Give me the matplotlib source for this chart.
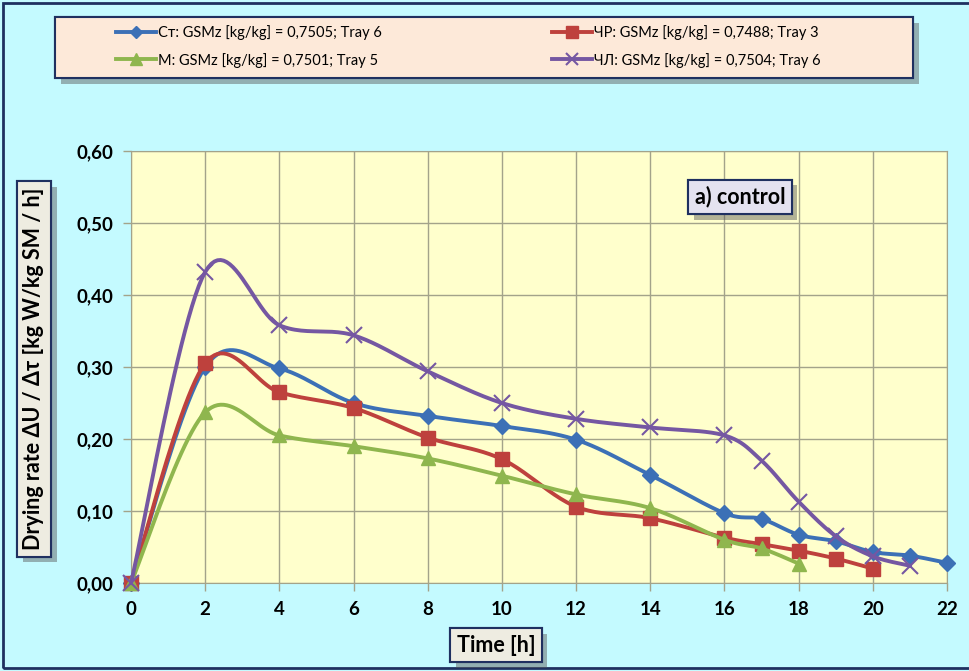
import numpy as np
import matplotlib.pyplot as plt
import matplotlib.patheffects as pe
from matplotlib.patches import Rectangle

# drying rate curves, control sample
time_st = [0, 2, 4, 6, 8, 10, 12, 14, 16, 17, 18, 19, 20, 21, 22]
rate_st = [0, 0.300, 0.298, 0.250, 0.232, 0.218, 0.199, 0.150, 0.097, 0.089, 0.067, 0.058, 0.043, 0.038, 0.028]
time_chr = [0, 2, 4, 6, 8, 10, 12, 14, 16, 17, 18, 19, 20]
rate_chr = [0, 0.305, 0.265, 0.243, 0.202, 0.172, 0.106, 0.090, 0.063, 0.054, 0.045, 0.034, 0.020]
time_m = [0, 2, 4, 6, 8, 10, 12, 14, 16, 17, 18]
rate_m = [0, 0.237, 0.205, 0.190, 0.173, 0.149, 0.123, 0.104, 0.060, 0.048, 0.027]
time_chl = [0, 2, 4, 6, 8, 10, 12, 14, 16, 17, 18, 19, 20, 21]
rate_chl = [0, 0.432, 0.358, 0.344, 0.294, 0.250, 0.228, 0.216, 0.205, 0.170, 0.113, 0.065, 0.037, 0.024]

labels = ['Ст: GSMz [kg/kg] = 0,7505; Tray 6',
          'ЧР: GSMz [kg/kg] = 0,7488; Tray 3',
          'М: GSMz [kg/kg] = 0,7501; Tray 5',
          'ЧЛ: GSMz [kg/kg] = 0,7504; Tray 6']
xticks = list(range(0, 23, 2))
yticks = [0.0, 0.1, 0.2, 0.3, 0.4, 0.5, 0.6]


def smooth(xs, ys, n=24):
    # excel-like smoothed line (catmull-rom as bezier), returns curve + indices of the data points
    x = np.asarray(xs, float)
    y = np.asarray(ys, float)
    px = np.concatenate([[x[0]], x, [x[-1]]])
    py = np.concatenate([[y[0]], y, [y[-1]]])
    cx, cy, idx = [x[0]], [y[0]], [0]
    t = np.linspace(0, 1, n + 1)[1:]
    for i in range(len(x) - 1):
        p0 = np.array([px[i], py[i]])
        p1 = np.array([px[i + 1], py[i + 1]])
        p2 = np.array([px[i + 2], py[i + 2]])
        p3 = np.array([px[i + 3], py[i + 3]])
        c1 = p1 + (p2 - p0) / 6
        c2 = p2 - (p3 - p1) / 6
        bx = (1 - t) ** 3 * p1[0] + 3 * (1 - t) ** 2 * t * c1[0] + 3 * (1 - t) * t ** 2 * c2[0] + t ** 3 * p2[0]
        by = (1 - t) ** 3 * p1[1] + 3 * (1 - t) ** 2 * t * c1[1] + 3 * (1 - t) * t ** 2 * c2[1] + t ** 3 * p2[1]
        cx.extend(bx)
        cy.extend(by)
        idx.append(len(cx) - 1)
    return np.array(cx), np.array(cy), idx


W, H = 969, 671
bg = '#c4faff'
navy = '#1f3060'
grid_c = '#a3a38a'

plt.rcParams['font.family'] = ['Lato', 'DejaVu Sans']
fig = plt.figure(figsize=(W / 100, H / 100), dpi=100, facecolor=bg)
ax = fig.add_axes([131 / W, 1 - 583 / H, (947 - 131) / W, (583 - 151) / H])
ax.set_facecolor('#ffffcc')

fig.patches.append(Rectangle((3 / W, 3 / H), 2, 1 - 6 / H, transform=fig.transFigure,
                             facecolor='none', edgecolor=navy, linewidth=2, zorder=0))

series = [(time_st, rate_st, '#3c70b6', 'D', 8, 0),
          (time_chr, rate_chr, '#be413d', 's', 10, 0),
          (time_m, rate_m, '#8fb64e', '^', 10, 0),
          (time_chl, rate_chl, '#7557a2', 'x', 11, 1.5)]
handles = []
for (tx, ry, col, mk, ms, mew), lab in zip(series, labels):
    sx, sy, idx = smooth(tx, ry)
    kw = dict(markeredgewidth=mew) if mew else dict(markeredgecolor=col)
    h, = ax.plot(sx, sy, color=col, linewidth=2.8, marker=mk, markersize=ms, markevery=idx,
                 markerfacecolor=col, label=lab, clip_on=False, zorder=3, **kw)
    handles.append(h)

ax.set_xlim(0, 22)
ax.set_ylim(0, 0.6)
ax.set_xticks(xticks)
ax.set_yticks(yticks)
ax.set_yticklabels(['{:.2f}'.format(v).replace('.', ',') for v in yticks])
ax.grid(True, color=grid_c, linewidth=1)
ax.set_axisbelow(True)
for s in ax.spines.values():
    s.set_color(grid_c)
ax.tick_params(length=6, color=grid_c, width=1, labelsize=13.5, pad=7)
for lbl in ax.get_xticklabels() + ax.get_yticklabels():
    lbl.set_fontweight('bold')

shadow = [pe.withSimplePatchShadow(offset=(4, -4), shadow_rgbFace='#555555', alpha=0.45), pe.Normal()]

# legend box
box = Rectangle((55 / W, 1 - 78 / H), (913 - 55) / W, 61 / H, transform=fig.transFigure,
                facecolor='#fde9d9', edgecolor=navy, linewidth=1.5, zorder=1)
box.set_path_effects(shadow)
fig.patches.append(box)
leg = fig.legend(handles=[handles[0], handles[2], handles[1], handles[3]],
                 labels=[labels[0], labels[2], labels[1], labels[3]],
                 ncol=2, loc='upper left', bbox_to_anchor=(109 / W, 1 - 18 / H), frameon=False,
                 fontsize=10.5, handlelength=2.7, handletextpad=0.15, columnspacing=11.7,
                 labelspacing=0.85, borderpad=0, markerscale=0.8, numpoints=1)
leg.set_zorder(2)

t = fig.text(34 / W, 1 - 369 / H, 'Drying rate ΔU / Δτ [kg W/kg SM / h]', rotation=90,
             ha='center', va='center', fontsize=15.5, fontweight='bold',
             bbox=dict(boxstyle='square,pad=0.3', facecolor='#eeece1', edgecolor=navy, linewidth=1.5))
t.get_bbox_patch().set_path_effects(shadow)
t = fig.text(496 / W, 1 - 645 / H, 'Time [h]', ha='center', va='center', fontsize=15.5,
             fontweight='bold',
             bbox=dict(boxstyle='square,pad=0.3', facecolor='#eeece1', edgecolor=navy, linewidth=1.5))
t.get_bbox_patch().set_path_effects(shadow)
t = fig.text(740 / W, 1 - 197 / H, 'a) control', ha='center', va='center', fontsize=15.5,
             fontweight='bold',
             bbox=dict(boxstyle='square,pad=0.3', facecolor='#e4e2f0', edgecolor=navy, linewidth=1.5))
t.get_bbox_patch().set_path_effects(shadow)

fig.savefig('out.png', dpi=100, facecolor=bg)
